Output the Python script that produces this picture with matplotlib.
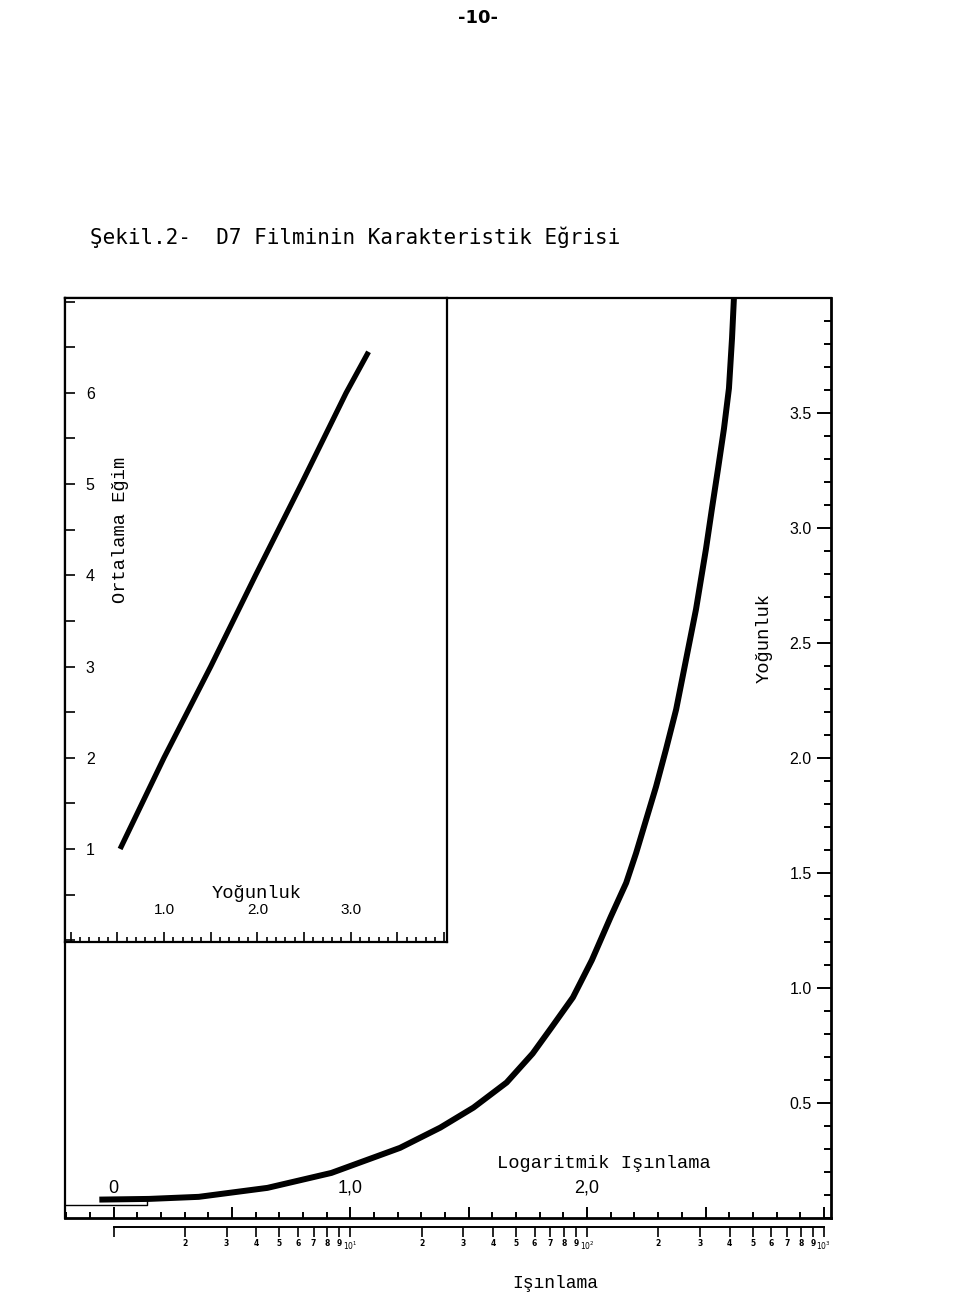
import matplotlib
matplotlib.use('Agg')
import matplotlib.pyplot as plt
from matplotlib.ticker import MultipleLocator

# Karakteristik egri (logaritmik isinlama - yogunluk) ......................
log_exp = [-0.06, 0.15, 0.36, 0.65, 0.92, 1.21, 1.38, 1.52, 1.66, 1.77, 1.85,
           1.94, 2.02, 2.10, 2.165, 2.207, 2.249, 2.291, 2.333, 2.376, 2.418,
           2.46, 2.502, 2.527, 2.553, 2.578, 2.599, 2.612, 2.62, 2.622]
density = [0.08, 0.083, 0.092, 0.131, 0.196, 0.305, 0.393, 0.48, 0.589, 0.715, 0.829,
           0.959, 1.121, 1.31, 1.457, 1.587, 1.731, 1.875, 2.037, 2.211, 2.429,
           2.647, 2.909, 3.083, 3.258, 3.432, 3.607, 3.825, 3.999, 4.02]
# thin base line under the start of the curve
base_x = [-0.21, 0.14, 0.14]
base_y = [0.057, 0.057, 0.078]

# Inset: ortalama egim vs yogunluk ..........................................
ins_dens = [0.53, 1.00, 1.50, 1.98, 2.47, 2.95, 3.19]
ins_grad = [1.00, 2.00, 3.00, 4.00, 5.00, 6.00, 6.45]

dens_ticks = [0.5, 1.0, 1.5, 2.0, 2.5, 3.0, 3.5]
dens_labels = ['0.5', '1.0', '1.5', '2.0', '2.5', '3.0', '3.5']
logx_labels = [(0.0, '0'), (1.0, '1,0'), (2.0, '2,0')]
ins_xlabels = [(1.0, '1.0'), (2.0, '2.0'), (3.0, '3.0')]
ins_yticks = [1, 2, 3, 4, 5, 6]

exp_ticks = [1, 2, 3, 4, 5, 6, 7, 8, 9, 10, 20, 30, 40, 50, 60, 70, 80, 90, 100,
             200, 300, 400, 500, 600, 700, 800, 900, 1000]
exp_labels = ['', '2', '3', '4', '5', '6', '7', '8', '9', '$10^1$',
              '2', '3', '4', '5', '6', '7', '8', '9', '$10^2$',
              '2', '3', '4', '5', '6', '7', '8', '9', '$10^3$']

W, H = 960, 1316
fig = plt.figure(figsize=(W / 100, H / 100), dpi=100)
mono = 'Liberation Mono'
sans = 'Liberation Sans'

# main axes ...............................................................
L, R, T, B = 65, 831, 298, 1218
ax = fig.add_axes([L / W, 1 - B / H, (R - L) / W, (B - T) / H])
ax.set_xlim(-0.205, 3.03)
ax.set_ylim(0, 4.0)
ax.plot(log_exp, density, color='black', lw=4.3, solid_capstyle='butt',
        solid_joinstyle='round')
ax.plot(base_x, base_y, color='black', lw=1.0)
for s in ax.spines.values():
    s.set_linewidth(1.6)
ax.spines['bottom'].set_linewidth(2.0)
ax.spines['right'].set_linewidth(2.0)

ax.xaxis.set_major_locator(MultipleLocator(0.5))
ax.xaxis.set_minor_locator(MultipleLocator(0.1))
ax.tick_params(axis='x', which='both', direction='in', labelbottom=False, width=1.4)
ax.tick_params(axis='x', which='major', length=8)
ax.tick_params(axis='x', which='minor', length=4)

ax.yaxis.tick_right()
ax.set_yticks(dens_ticks, dens_labels)
ax.yaxis.set_minor_locator(MultipleLocator(0.1))
ax.tick_params(axis='y', which='both', direction='in', width=1.4, pad=-14,
               labelsize=11.5, left=False)
ax.tick_params(axis='y', which='major', length=10)
ax.tick_params(axis='y', which='minor', length=5)
for lbl in ax.get_yticklabels():
    lbl.set_horizontalalignment('right')
    lbl.set_family(sans)

for xv, txt in logx_labels:
    ax.text(xv, 0.13, txt, ha='center', va='center', fontsize=13, family=sans)
ax.text(2.07, 0.235, 'Logaritmik Işınlama', ha='center', va='center',
        fontsize=13.5, family=mono)
ax.text(2.747, 2.52, 'Yoğunluk', ha='center', va='center', rotation=90,
        fontsize=13.5, family=mono)

# second axis: exposure (log) .............................................
yb = 1227
ax2 = fig.add_axes([L / W, 1 - yb / H, (R - L) / W, 0.002])
ax2.set_facecolor('none')
ax2.set_xscale('log')
ax2.set_xlim(10 ** -0.205, 10 ** 3.03)
for k in ['top', 'left', 'right']:
    ax2.spines[k].set_visible(False)
ax2.spines['bottom'].set_bounds(1, 1000)
ax2.spines['bottom'].set_linewidth(1.4)
ax2.set_yticks([])
ax2.xaxis.set_minor_locator(plt.NullLocator())
ax2.set_xticks(exp_ticks, exp_labels)
ax2.tick_params(axis='x', direction='out', length=7, width=1.2, pad=2, labelsize=5.5)
for lbl in ax2.get_xticklabels():
    lbl.set_fontweight('bold')

# inset ...................................................................
IR, IB = 447, 942
axi = fig.add_axes([L / W, 1 - IB / H, (IR - L) / W, (IB - T) / H])
axi.set_facecolor('white')
axi.set_xlim(-0.06, 4.03)
axi.set_ylim(-0.02, 7.04)
axi.plot(ins_dens, ins_grad, color='black', lw=3.8, solid_capstyle='butt')
for s in axi.spines.values():
    s.set_linewidth(1.6)
axi.xaxis.set_major_locator(MultipleLocator(0.5))
axi.xaxis.set_minor_locator(MultipleLocator(0.1))
axi.tick_params(axis='x', which='both', direction='in', labelbottom=False, width=1.2)
axi.tick_params(axis='x', which='major', length=7)
axi.tick_params(axis='x', which='minor', length=3.5)
axi.set_yticks(ins_yticks, [str(v) for v in ins_yticks])
axi.yaxis.set_minor_locator(MultipleLocator(0.5))
axi.tick_params(axis='y', which='both', direction='in', length=7, width=1.2,
                pad=-15, labelsize=11.5)
for lbl in axi.get_yticklabels():
    lbl.set_horizontalalignment('left')
    lbl.set_family(sans)
for xv, txt in ins_xlabels:
    axi.text(xv, 0.33, txt, ha='center', va='center', fontsize=11, family=sans)
axi.text(0.503, 0.076, 'Yoğunluk', transform=axi.transAxes, ha='center',
         va='center', fontsize=13.5, family=mono)
axi.text(0.144, 0.64, 'Ortalama Eğim', transform=axi.transAxes, ha='center',
         va='center', rotation=90, fontsize=13.5, family=mono)

# page texts ..............................................................
fig.text(478 / W, 1 - 18 / H, '-10-', ha='center', va='center', fontsize=13,
         fontweight='bold', family='DejaVu Sans')
fig.text(90 / W, 1 - 237 / H, 'Şekil.2-  D7 Filminin Karakteristik Eğrisi',
         ha='left', va='center', fontsize=15, family='DejaVu Sans Mono')
fig.text(555 / W, 1 - 1283 / H, 'Işınlama', ha='center', va='center',
         fontsize=13, family=mono)

fig.savefig('out.png', dpi=100)
